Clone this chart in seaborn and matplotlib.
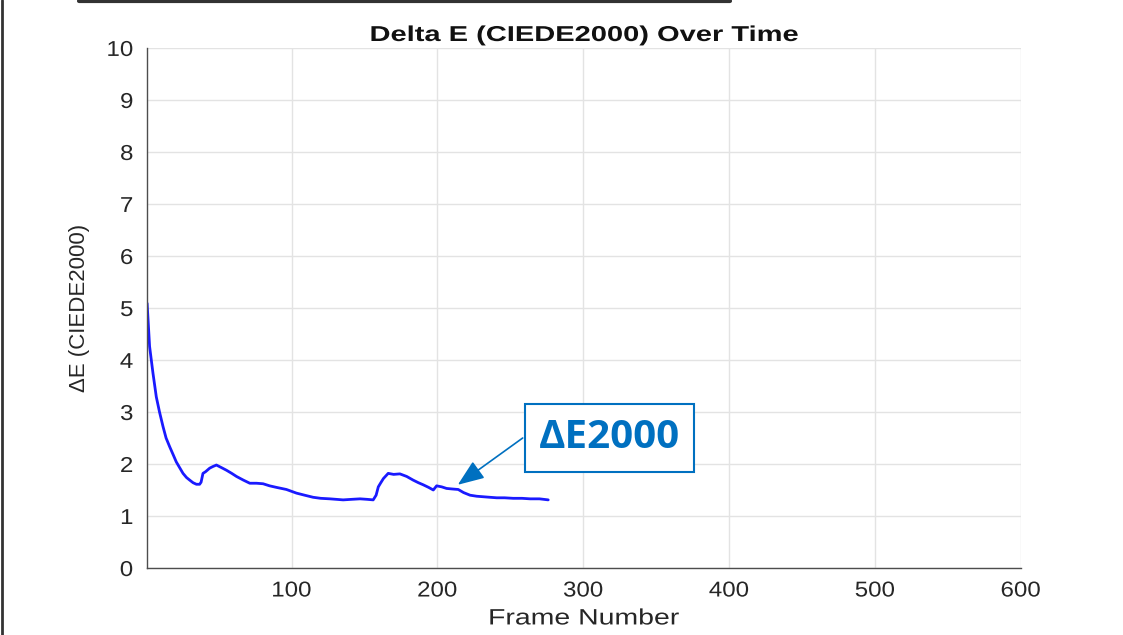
import matplotlib
matplotlib.use("Agg")
import matplotlib.pyplot as plt
import seaborn as sns
import pandas as pd
from matplotlib.lines import Line2D
from matplotlib.patheffects import AbstractPathEffect
from matplotlib.transforms import Affine2D

frames = [1, 2.7, 5, 7.3, 9.5, 11.9, 14, 16.5, 19, 21, 23.5, 25.6, 28, 30.2, 32.5, 34.8, 37, 38, 39.3, 41, 43.9,
          46, 48.5, 52, 55.4, 59, 62.3, 67, 71.4, 76, 80.5, 85, 89.7, 96.5, 103.4, 109, 114.8, 120, 126.3,
          135.4, 141, 147, 152, 156, 158, 159.5, 161, 163, 166.3, 170, 174.3, 179, 183.4, 187, 190.3, 194,
          197.2, 199.5, 203, 206.3, 210, 214.3, 218, 222.4, 227, 231.5, 236, 240.7, 246, 252, 258, 263.6, 270, 276]
delta_e = [5.09, 4.26, 3.75, 3.29, 3.0, 2.72, 2.5, 2.33, 2.17, 2.04, 1.92, 1.82, 1.74, 1.69, 1.64, 1.61, 1.61, 1.65, 1.82,
           1.85, 1.92, 1.95, 1.98, 1.93, 1.88, 1.82, 1.76, 1.69, 1.63, 1.63, 1.62, 1.58, 1.55, 1.51, 1.44, 1.40,
           1.36, 1.34, 1.33, 1.31, 1.32, 1.33, 1.32, 1.31, 1.40, 1.56, 1.63, 1.72, 1.82, 1.80, 1.81, 1.76, 1.69,
           1.64, 1.60, 1.55, 1.50, 1.58, 1.56, 1.53, 1.52, 1.51, 1.45, 1.40, 1.38, 1.37, 1.36, 1.35, 1.35, 1.34,
           1.34, 1.33, 1.33, 1.31]
x_ticks = [100, 200, 300, 400, 500, 600]
y_ticks = list(range(0, 11))

df = pd.DataFrame({"Frame Number": frames, "dE": delta_e})


class HStretch(AbstractPathEffect):
    """Stretch rendered text horizontally (the reference screenshot is widened)."""
    def __init__(self, sx, anchor="center"):
        super().__init__()
        self.sx = sx
        self.anchor = anchor

    def draw_path(self, renderer, gc, tpath, affine, rgbFace=None):
        ext = tpath.get_extents(affine)
        if self.anchor == "right":
            cx = ext.x1
        elif self.anchor == "left":
            cx = ext.x0
        else:
            cx = (ext.x0 + ext.x1) / 2
        new = affine + Affine2D().translate(-cx, 0).scale(self.sx, 1).translate(cx, 0)
        renderer.draw_path(gc, tpath, new, rgbFace)


sns.set_theme(style="white")
plt.rcParams['font.family'] = ['Liberation Sans', 'DejaVu Sans']

fig = plt.figure(figsize=(11.23, 6.35), dpi=100)
ax = fig.add_axes([0.131, 0.1055, 0.778, 0.819])

sns.lineplot(data=df, x="Frame Number", y="dE", ax=ax, color="#1a1aff", linewidth=2.0)

ax.set_xlim(1, 600)
ax.set_ylim(0, 10)
ax.set_xticks(x_ticks)
ax.set_yticks(y_ticks)
ax.grid(True, color="#e3e3e3", linewidth=1.0)
ax.set_axisbelow(True)
for s in ["top", "right"]:
    ax.spines[s].set_visible(False)
for s in ["left", "bottom"]:
    ax.spines[s].set_color("#4d4d4d")
    ax.spines[s].set_linewidth(1.0)
ax.tick_params(axis="both", direction="in", length=6, width=1, color="#4d4d4d",
               labelsize=15.5, labelcolor="#262626")
ax.tick_params(axis="x", pad=9)
ax.tick_params(axis="y", pad=10)
for lab in ax.get_xticklabels():
    lab.set_path_effects([HStretch(1.12)])
for lab in ax.get_yticklabels():
    lab.set_path_effects([HStretch(1.12, anchor="right")])

ax.set_xlabel("Frame Number", fontsize=16, color="#262626", labelpad=5,
              path_effects=[HStretch(1.28)])
ax.set_ylabel("ΔE (CIEDE2000)", fontsize=16, color="#262626", labelpad=14)
ax.set_title("Delta E (CIEDE2000) Over Time", fontsize=15.5, fontweight="bold", color="#111111", pad=5,
             path_effects=[HStretch(1.35)])

# callout box
ax.text(318, 2.5, "ΔE2000", fontsize=29, fontweight="bold", color="#0070C0",
        family=["Open Sans", "DejaVu Sans"], ha="center", va="center", zorder=5,
        bbox=dict(boxstyle="square,pad=0.35", fc="white", ec="#0070C0", lw=1.5))
# callout arrow from left edge of box to the curve
ax.annotate("", xy=(214, 1.6), xytext=(258.5, 2.5), textcoords="data",
            arrowprops=dict(arrowstyle="-|>,head_length=0.9,head_width=0.35", mutation_scale=18,
                            color="#0070C0", lw=1.2, shrinkA=0, shrinkB=0), zorder=4)

# screenshot edge artifacts
fig.add_artist(Line2D([0.0015, 0.0015], [0, 1], transform=fig.transFigure, color="#333333", lw=2))
fig.add_artist(Line2D([0.07, 0.65], [0.998, 0.998], transform=fig.transFigure, color="#333333", lw=3))

fig.savefig("out.png", dpi=100)
